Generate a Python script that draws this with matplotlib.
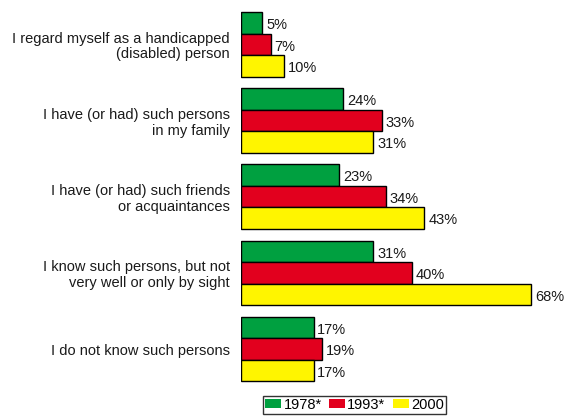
import matplotlib
matplotlib.use("Agg")
import matplotlib.pyplot as plt
import numpy as np

categories = [
    "I regard myself as a handicapped\n(disabled) person",
    "I have (or had) such persons\nin my family",
    "I have (or had) such friends\nor acquaintances",
    "I know such persons, but not\nvery well or only by sight",
    "I do not know such persons",
]
series_names = ["1978*", "1993*", "2000"]
v1978 = [5, 24, 23, 31, 17]
v1993 = [7, 33, 34, 40, 19]
v2000 = [10, 31, 43, 68, 17]
colors = ["#00A040", "#E2001E", "#FFF500"]

plt.rcParams["font.family"] = ["Liberation Sans", "DejaVu Sans"]
FS = 10.5

W, H = 578, 417
fig = plt.figure(figsize=(W / 100, H / 100), dpi=100)
ax_left = 241
ax = fig.add_axes([ax_left / W, 0, (W - ax_left) / W, 1])

px_per_pct = (531 - 241) / 68.0
ax.set_xlim(0, (W - ax_left) / px_per_pct)
g0, gstep = 44.5, 76.1
ax.set_ylim((H - g0) / gstep, -g0 / gstep)

bh = 21.5 / gstep
y = np.arange(len(categories))
for k, (vals, name, col) in enumerate(zip([v1978, v1993, v2000], series_names, colors)):
    pos = y + (k - 1) * bh
    ax.barh(pos, vals, height=bh, color=col, edgecolor="black", linewidth=1.0, label=name)
    for p, v in zip(pos, vals):
        ax.text(v + 0.9, p + 0.03, f"{v}%", va="center", ha="left", fontsize=FS, color="#1a1a1a")

for yi, cat in zip(y, categories):
    ax.text(-11 / px_per_pct, yi + 0.03, cat, ha="right", va="center", fontsize=FS,
            multialignment="right", linespacing=1.12, color="#1a1a1a")

ax.axis("off")

leg = fig.legend(loc="lower center", bbox_to_anchor=(354.5 / W, 0.0), ncol=3,
                 fontsize=FS, frameon=True, fancybox=False, edgecolor="black",
                 handlelength=1.1, handleheight=0.6, handletextpad=0.15,
                 columnspacing=0.5, borderpad=0.15, borderaxespad=0.2)
leg.get_frame().set_linewidth(1.0)
for h in leg.legend_handles:
    h.set_edgecolor("none")

fig.savefig("out.png", dpi=100)
